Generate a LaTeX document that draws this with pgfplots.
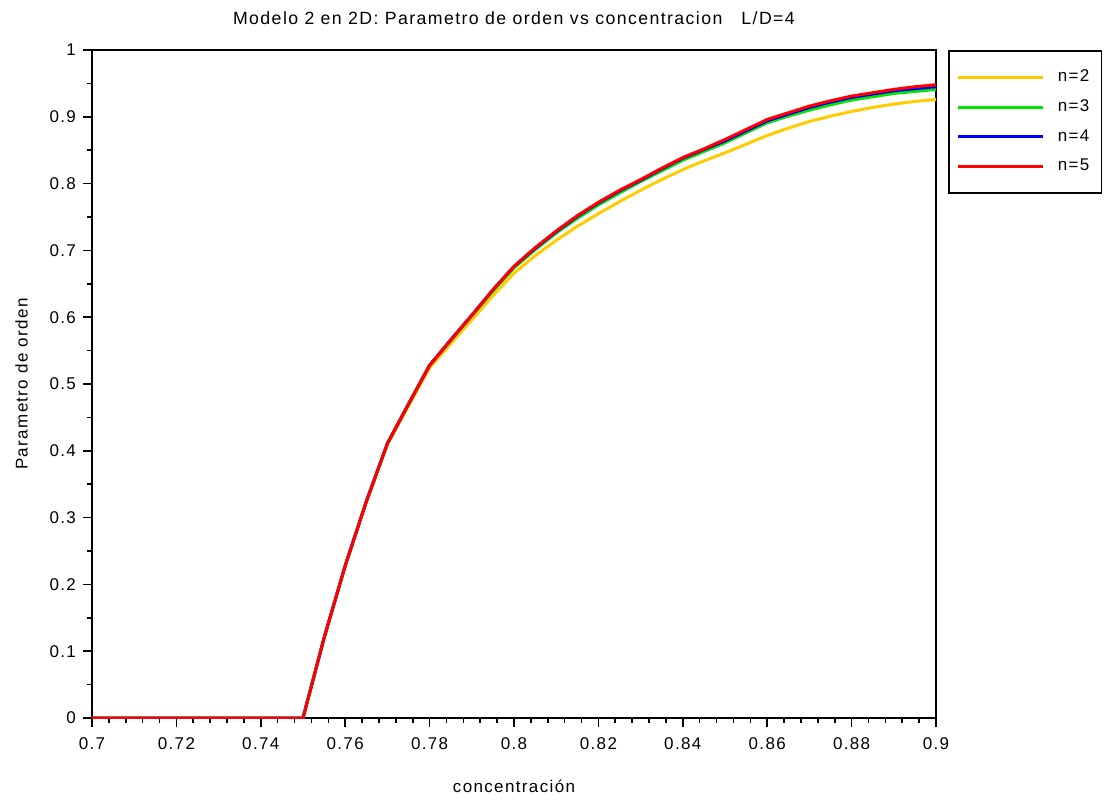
\documentclass[border=0pt]{standalone}
\usepackage{fontspec}
\setmainfont{Liberation Sans}[LetterSpace=8]
\usepackage{pgfplots}
\pgfplotsset{compat=1.18}
\definecolor{cyel}{RGB}{255,204,0}
\definecolor{cgrn}{RGB}{0,230,0}
\definecolor{cblu}{RGB}{0,0,255}
\definecolor{cred}{RGB}{255,0,0}

\pgfplotstableread{
x y
0.700 0
0.750 0
0.755 0.120
0.760 0.227
0.765 0.323
0.770 0.409
0.775 0.467
0.780 0.524
0.785 0.560
0.790 0.596
0.795 0.632
0.800 0.666
0.805 0.692
0.810 0.715
0.815 0.736
0.820 0.755
0.825 0.773
0.830 0.790
0.835 0.806
0.840 0.821
0.845 0.834
0.850 0.846
0.855 0.859
0.860 0.872
0.865 0.883
0.870 0.893
0.875 0.901
0.880 0.908
0.885 0.914
0.890 0.919
0.895 0.923
0.900 0.926
}\ntwo

\pgfplotstableread{
x y
0.700 0
0.750 0
0.755 0.120
0.760 0.228
0.765 0.324
0.770 0.411
0.775 0.470
0.780 0.528
0.785 0.565
0.790 0.602
0.795 0.639
0.800 0.674
0.805 0.701
0.810 0.726
0.815 0.748
0.820 0.768
0.825 0.786
0.830 0.803
0.835 0.819
0.840 0.835
0.845 0.848
0.850 0.861
0.855 0.876
0.860 0.891
0.865 0.901
0.870 0.910
0.875 0.918
0.880 0.925
0.885 0.930
0.890 0.935
0.895 0.938
0.900 0.941
}\nthree

\pgfplotstableread{
x y
0.700 0
0.750 0
0.755 0.120
0.760 0.228
0.765 0.324
0.770 0.411
0.775 0.470
0.780 0.528
0.785 0.566
0.790 0.603
0.795 0.641
0.800 0.676
0.805 0.703
0.810 0.728
0.815 0.751
0.820 0.771
0.825 0.789
0.830 0.805
0.835 0.822
0.840 0.838
0.845 0.851
0.850 0.864
0.855 0.879
0.860 0.894
0.865 0.904
0.870 0.914
0.875 0.922
0.880 0.929
0.885 0.934
0.890 0.939
0.895 0.942
0.900 0.945
}\nfour

\pgfplotstableread{
x y
0.700 0
0.750 0
0.755 0.120
0.760 0.228
0.765 0.324
0.770 0.411
0.775 0.470
0.780 0.528
0.785 0.566
0.790 0.603
0.795 0.641
0.800 0.676
0.805 0.704
0.810 0.729
0.815 0.752
0.820 0.772
0.825 0.790
0.830 0.806
0.835 0.823
0.840 0.839
0.845 0.852
0.850 0.866
0.855 0.881
0.860 0.896
0.865 0.906
0.870 0.916
0.875 0.924
0.880 0.931
0.885 0.936
0.890 0.941
0.895 0.945
0.900 0.948
}\nfive

\begin{document}
\begin{tikzpicture}
\begin{axis}[
  scale only axis,
  width=422pt, height=334pt,
  xmin=0.7, xmax=0.9, ymin=0, ymax=1,
  xtick={0.7,0.72,...,0.9}, ytick={0,0.1,...,1},
  minor x tick num=4, minor y tick num=1,
  xticklabels={0.7,0.72,0.74,0.76,0.78,0.8,0.82,0.84,0.86,0.88,0.9},
  yticklabels={0,0.1,0.2,0.3,0.4,0.5,0.6,0.7,0.8,0.9,1},
  tick align=outside, tick pos=left,
  major tick length=4.5pt, minor tick length=2.5pt,
  every tick/.style={black, line width=0.8pt},
  axis line style={line width=0.8pt},
  /pgf/number format/assume math mode=true,
  tick label style={font=\fontsize{8.5}{10}\selectfont},
  xticklabel style={yshift=-2pt},
  title={Modelo 2 en 2D: Parametro de orden vs concentracion\ \ \ L/D=4},
  title style={font=\fontsize{8.85}{10}\selectfont, yshift=3pt},
  xlabel={concentración},
  ylabel={Parametro de orden},
  label style={font=\fontsize{8.5}{10}\selectfont},
  xlabel style={yshift=-8pt},
  ylabel style={yshift=4pt},
  legend cell align=left,
  legend image code/.code={\draw[#1, line width=1.5pt] (0pt,0pt) -- (42.5pt,0pt);},
  legend style={at={(1,1)}, xshift=6pt, anchor=north west, draw=black, line width=0.8pt,
    font=\fontsize{8.5}{10}\selectfont, inner xsep=4pt, inner ysep=7pt, row sep=2.5pt,
    nodes={inner ysep=2.5pt},
    /tikz/every odd column/.append style={column sep=4.5pt}},
]
\addplot[cyel, line width=1.5pt] table {\ntwo};
\addplot[cgrn, line width=1.5pt] table {\nthree};
\addplot[cblu, line width=1.5pt] table {\nfour};
\addplot[cred, line width=1.5pt] table {\nfive};
\legend{n=2,n=3,n=4,n=5}
\path (rel axis cs:0,0) ++(-46pt,-39pt) coordinate (bl);
\path (rel axis cs:1,1) ++(86pt,25pt) coordinate (tr);
\end{axis}
\path (bl) rectangle (tr);
\end{tikzpicture}
\end{document}
